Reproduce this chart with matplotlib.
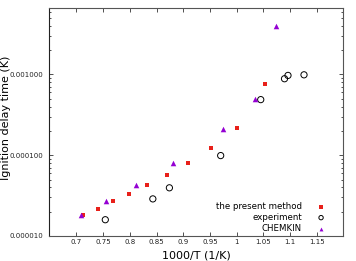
import matplotlib
matplotlib.use("Agg")
import matplotlib.pyplot as plt
from matplotlib.ticker import FixedLocator, LogLocator, NullFormatter

present_x = [0.713, 0.740, 0.769, 0.799, 0.833, 0.869, 0.908, 0.952, 1.000, 1.053]
present_y = [1.80e-5, 2.17e-5, 2.68e-5, 3.33e-5, 4.30e-5, 5.72e-5, 7.96e-5, 1.22e-4, 2.20e-4, 7.67e-4]

exp_x = [0.754, 0.843, 0.874, 0.970, 1.045, 1.0895, 1.096, 1.126]
exp_y = [1.59e-5, 2.88e-5, 3.95e-5, 9.9e-5, 4.88e-4, 8.85e-4, 9.73e-4, 9.9e-4]

chem_x = [0.709, 0.755, 0.811, 0.881, 0.974, 1.034, 1.074]
chem_y = [1.82e-5, 2.68e-5, 4.22e-5, 7.9e-5, 2.1e-4, 4.96e-4, 3.94e-3]

xticks = [0.7, 0.75, 0.8, 0.85, 0.9, 0.95, 1.0, 1.05, 1.1, 1.15]
xticklabels = ["0.7", "0.75", "0.8", "0.85", "0.9", "0.95", "1", "1.05", "1.1", "1.15"]
yticks = [1e-5, 1e-4, 1e-3]
yticklabels = ["0.000010", "0.000100", "0.001000"]

fig = plt.figure(figsize=(3.56, 2.61), dpi=100)
ax = fig.add_axes([49/356, 1-236/261, (343-49)/356, (236-8)/261])

ax.scatter(present_x, present_y, marker='s', s=12, color='#e8201a', linewidths=0,
           label='the present method', zorder=3)
ax.scatter(exp_x, exp_y, marker='o', s=20, facecolors='none', edgecolors='black',
           linewidths=0.7, label='experiment', zorder=3)
ax.scatter(chem_x, chem_y, marker='^', s=16, color='#9400d3', linewidths=0,
           label='CHEMKIN', zorder=3)

ax.set_yscale('log')
ax.set_xlim(0.6486, 1.199)
ax.set_ylim(1e-5, 6.65e-3)

ax.xaxis.set_major_locator(FixedLocator(xticks))
ax.set_xticklabels(xticklabels)
ax.yaxis.set_major_locator(FixedLocator(yticks))
ax.set_yticklabels(yticklabels)
ax.yaxis.set_minor_locator(LogLocator(base=10, subs=range(2, 10)))
ax.yaxis.set_minor_formatter(NullFormatter())

ax.tick_params(axis='both', which='both', direction='in', top=True, right=True,
               labelsize=5, colors='#333333', width=0.6)
ax.tick_params(axis='both', which='major', length=3)
ax.tick_params(axis='x', which='major', pad=1.8)
ax.tick_params(axis='y', which='major', pad=4)
ax.tick_params(axis='y', which='minor', length=1.5)
for lbl in ax.get_xticklabels() + ax.get_yticklabels():
    lbl.set_color('#222222')

for side, sp in ax.spines.items():
    sp.set_color('#555555')
    sp.set_linewidth(0.8)
ax.spines['left'].set_color('#222222')

fig.text(196/356, 1-255/261, '1000/T (1/K)', fontsize=8, ha='center', va='center')
fig.text(6.5/356, 1-118/261, 'Ignition delay time (K)', fontsize=8, ha='center',
         va='center', rotation=90)

leg = ax.legend(loc='lower right', bbox_to_anchor=(0.94, 0.014), fontsize=6.2,
                frameon=False, markerfirst=False, handletextpad=1.7,
                labelspacing=0.22, borderaxespad=0, borderpad=0,
                handlelength=1.0, markerscale=0.7)
for t in leg.get_texts():
    t.set_ha('right')
leg._legend_box.align = 'right'

fig.savefig('out.png', dpi=100)
